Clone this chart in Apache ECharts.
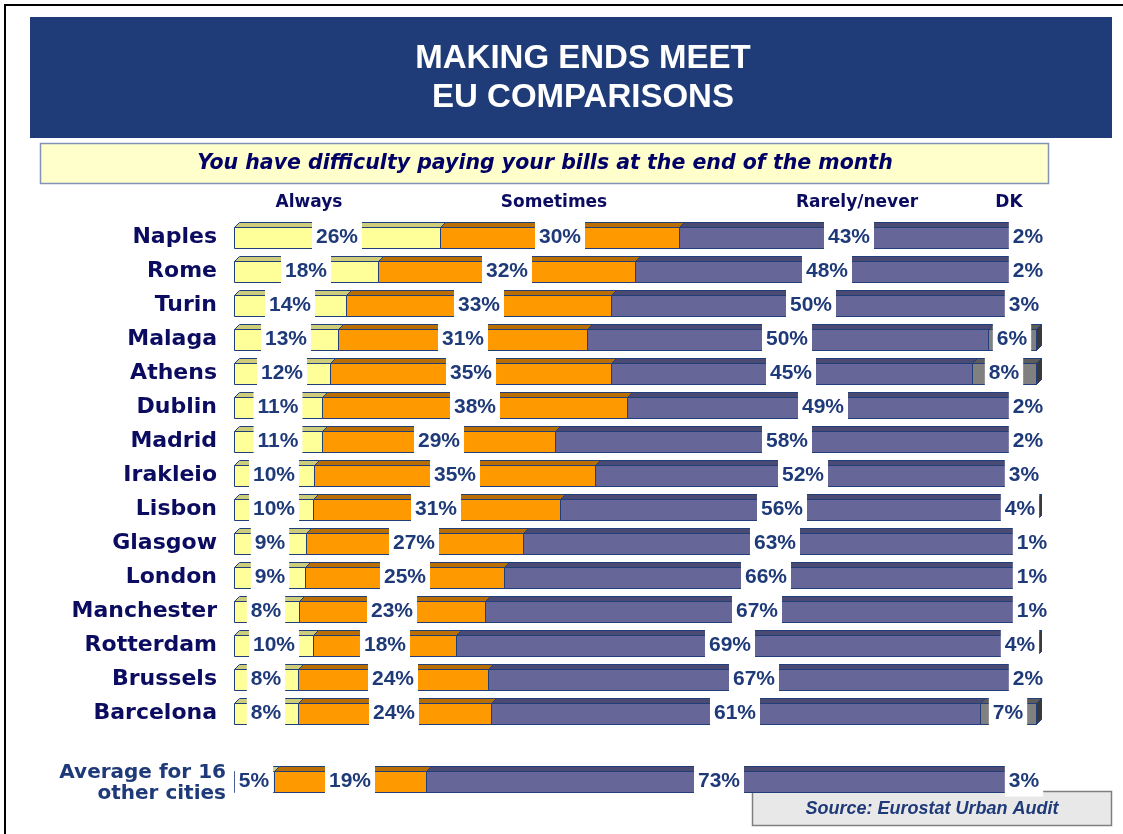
<!DOCTYPE html>
<html>
<head>
<meta charset="utf-8">
<title>Making ends meet - EU comparisons</title>
<script src="https://cdn.jsdelivr.net/npm/echarts@6/dist/echarts.min.js"></script>
<style>
  html, body { margin: 0; padding: 0; background: #ffffff; }
  #chart { width: 1123px; height: 834px; }
</style>
</head>
<body>
<div id="chart"></div>
<script>
// Cities (top to bottom); the empty entry leaves a gap before the average row
const cities = ['Naples', 'Rome', 'Turin', 'Malaga', 'Athens', 'Dublin', 'Madrid', 'Irakleio',
  'Lisbon', 'Glasgow', 'London', 'Manchester', 'Rotterdam', 'Brussels', 'Barcelona', '',
  'Average for 16\nother cities'];

// Share of respondents (%) per answer
const always    = [26, 18, 14, 13, 12, 11, 11, 10, 10,  9,  9,  8, 10,  8,  8, null,  5];
const sometimes = [30, 32, 33, 31, 35, 38, 29, 35, 31, 27, 25, 23, 18, 24, 24, null, 19];
const rarely    = [43, 48, 50, 50, 45, 49, 58, 52, 56, 63, 66, 67, 69, 67, 61, null, 73];
const dk        = [ 2,  2,  3,  6,  8,  2,  2,  3,  4,  1,  1,  1,  4,  2,  7, null,  3];

const answers = ['Always', 'Sometimes', 'Rarely/never', 'DK'];
const answerValues = [always, sometimes, rarely, dk];

const titleLines = ['MAKING ENDS MEET', 'EU COMPARISONS'];
const question = 'You have difficulty paying your bills at the end of the month';
const sourceNote = 'Source: Eurostat Urban Audit';

// Bar styling: front face, top face, right face
const FRONT = ['#FFFF99', '#FF9900', '#666699', '#808080'];
const TOP   = ['#CCCC7A', '#B86E00', '#4A4A72', '#5C5C5C'];
const SIDE  = '#3A3A3A';
const EDGE  = '#203E7A';
const FRONT_H = 21, DX = 5, DY = 5;
const VALUE_COLOR = '#1F3A78';
const NAME_COLOR = '#0B0B60';

const chart = echarts.init(document.getElementById('chart'), null, { renderer: 'canvas' });

// Each row is drawn as a 100% stacked bar: answers are scaled by the row total
function rowTotal(i) {
  return answerValues.reduce((s, arr) => s + arr[i], 0);
}

// [row, start, width] in percent of the row total
function segmentData(k) {
  return cities.map((_, i) => {
    const v = answerValues[k][i];
    if (v == null) return [i, 0, null];
    const total = rowTotal(i);
    let start = 0;
    for (let j = 0; j < k; j++) start += answerValues[j][i];
    return [i, start / total * 100, v / total * 100];
  });
}

function segmentRenderer(k) {
  return function (params, api) {
    const v = api.value(2);
    if (v == null || isNaN(v)) return null;
    const row = api.value(0), start = api.value(1);
    const a = api.coord([start, row]);
    const b = api.coord([start + v, row]);
    const x0 = Math.round(a[0]) + 0.5, x1 = Math.round(b[0]) + 0.5;
    const yt = Math.round(a[1] - FRONT_H / 2) + 0.5, yb = yt + FRONT_H;
    const children = [
      { type: 'polygon',
        shape: { points: [[x0, yt], [x0 + DX, yt - DY], [x1 + DX, yt - DY], [x1, yt]] },
        style: { fill: TOP[k], stroke: EDGE, lineWidth: 1 } },
      { type: 'rect',
        shape: { x: x0, y: yt, width: x1 - x0, height: FRONT_H },
        style: { fill: FRONT[k], stroke: EDGE, lineWidth: 1 } }
    ];
    if (k === answers.length - 1) {
      children.push({ type: 'polygon',
        shape: { points: [[x1, yt], [x1 + DX, yt - DY], [x1 + DX, yb - DY], [x1, yb]] },
        style: { fill: SIDE, stroke: EDGE, lineWidth: 1 } });
    }
    return { type: 'group', children };
  };
}

// Percentage labels sit on white boxes centred on each segment
function labelRenderer(params, api) {
  const row = api.value(0);
  if (answerValues[0][row] == null) return null;
  const total = rowTotal(row);
  const children = [];
  let start = 0;
  for (let k = 0; k < answers.length; k++) {
    const v = answerValues[k][row];
    const c = api.coord([(start + v / 2) / total * 100, row]);
    children.push({
      type: 'text',
      style: {
        text: v + '%', x: Math.round(c[0]), y: Math.round(c[1]) - 1,
        align: 'center', verticalAlign: 'middle',
        fill: VALUE_COLOR, font: 'bold 21px "Liberation Sans", Arial, sans-serif',
        backgroundColor: '#ffffff', padding: [6, 4, 4, 4]
      }
    });
    start += v;
  }
  return { type: 'group', children };
}

const series = answers.map((name, k) => ({
  name, type: 'custom', z: 2,
  coordinateSystem: 'cartesian2d',
  renderItem: segmentRenderer(k),
  encode: { y: 0, x: [1, 2] },
  data: segmentData(k),
  silent: true
}));
series.push({
  name: 'labels', type: 'custom', z: 10,
  coordinateSystem: 'cartesian2d',
  renderItem: labelRenderer,
  encode: { y: 0 },
  data: cities.map((_, i) => [i]),
  silent: true
});

const headCenters = [309, 554, 857, 1009];

const graphic = [
  // page frame
  { type: 'rect', shape: { x: 5, y: 5, width: 1200, height: 900 },
    style: { fill: 'none', stroke: '#000000', lineWidth: 2 }, z: 1 },
  // title banner
  { type: 'rect', shape: { x: 30, y: 17, width: 1082, height: 121 },
    style: { fill: '#1F3C78' }, z: 1 },
  { type: 'text', x: 583, y: 59, z: 2,
    style: { text: titleLines[0], align: 'center', verticalAlign: 'middle', fill: '#ffffff',
      font: 'bold 33px "Liberation Sans", Arial, sans-serif' } },
  { type: 'text', x: 583, y: 98, z: 2,
    style: { text: titleLines[1], align: 'center', verticalAlign: 'middle', fill: '#ffffff',
      font: 'bold 33px "Liberation Sans", Arial, sans-serif' } },
  // question box
  { type: 'rect', shape: { x: 40.5, y: 143.5, width: 1008, height: 40 },
    style: { fill: '#FFFFCC', stroke: '#8393B5', lineWidth: 1.5 }, z: 1 },
  { type: 'text', x: 545, y: 164, z: 2,
    style: { text: question, align: 'center', verticalAlign: 'middle', fill: '#000066',
      font: 'italic bold 20.5px "DejaVu Sans", Verdana, sans-serif' } },
  // source box
  { type: 'rect', shape: { x: 752.5, y: 791.5, width: 359, height: 34 },
    style: { fill: '#E8E8E8', stroke: '#7F7F7F', lineWidth: 1.5 }, z: 1 },
  { type: 'text', x: 932, y: 809, z: 2,
    style: { text: sourceNote, align: 'center', verticalAlign: 'middle', fill: '#1F3A78',
      font: 'italic bold 18px "Liberation Sans", Arial, sans-serif' } }
].concat(answers.map((name, k) => ({
  type: 'text', x: headCenters[k], y: 203, z: 2,
  style: { text: name, align: 'center', verticalAlign: 'middle', fill: NAME_COLOR,
    font: 'bold 17px "DejaVu Sans", Verdana, sans-serif' }
})));

chart.setOption({
  animation: false,
  backgroundColor: '#ffffff',
  grid: { left: 234, right: 87, top: 220.5, bottom: 35.5, containLabel: false, outerBoundsMode: 'none' },
  xAxis: { type: 'value', min: 0, max: 100, show: false },
  yAxis: {
    type: 'category', data: cities, inverse: true,
    axisLine: { show: false }, axisTick: { show: false }, splitLine: { show: false },
    axisLabel: {
      margin: 8,
      formatter: function (val) {
        if (!val) return '';
        if (val.indexOf('\n') >= 0) return val.split('\n').map(s => '{a|' + s + '}').join('\n');
        return '{c|' + val + '}';
      },
      rich: {
        c: { fontFamily: '"DejaVu Sans", Verdana, sans-serif', fontWeight: 'bold', fontSize: 22,
             color: NAME_COLOR, padding: [0, 9, 0, 0] },
        a: { fontFamily: '"DejaVu Sans", Verdana, sans-serif', fontWeight: 'bold', fontSize: 20,
             color: VALUE_COLOR, lineHeight: 21, padding: [4, 0, 0, 0] }
      }
    }
  },
  graphic,
  series
});
</script>
</body>
</html>
